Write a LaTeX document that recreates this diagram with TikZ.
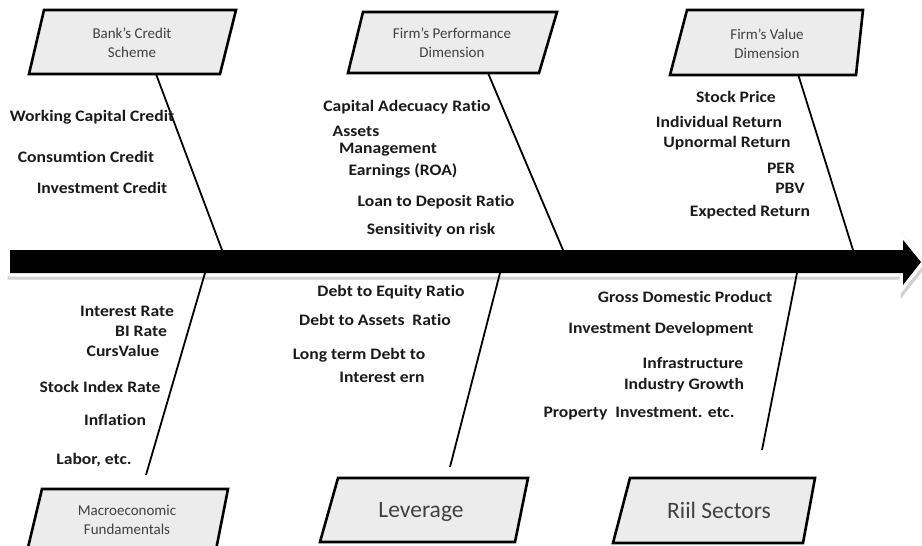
\documentclass[tikz,border=0pt]{standalone}
\usepackage{fontspec}
\setmainfont{Carlito}[Ligatures={NoCommon}]
\newfontfamily\labfont{Carlito}[FakeStretch=1.1, Ligatures={NoCommon}]
\begin{document}
\begin{tikzpicture}[x=1pt,y=-1pt,
  boxshape/.style={draw=black, line width=2.6pt, line join=miter, fill=boxgray},
  bone/.style={draw=black, line width=1.8pt},
  lab/.style={inner sep=0pt, font=\labfont\fontsize{16}{18}\selectfont\bfseries, text=labtext},
  boxtxt/.style={inner sep=0pt, align=center, font=\fontsize{15}{18.5}\selectfont, text=boxtext},
  bigtxt/.style={inner sep=0pt, font=\fontsize{23.5}{25}\selectfont, text=boxtext}]
\definecolor{boxgray}{HTML}{ECECEC}
\definecolor{boxtext}{HTML}{404040}
\definecolor{labtext}{HTML}{1A1A1A}
\useasboundingbox (0,0) rectangle (922,546);
\clip (0,0) rectangle (922,546);
% main arrow
\fill[black!18, shift={(1.5,2.5)}] (10,250) -- (903,250) -- (903,240) -- (921,262) -- (903,285) -- (903,273) -- (10,273) -- cycle;
\draw[black!18, line width=8pt, line join=miter, shift={(1.5,2.5)}] (10,250) -- (903,250) -- (903,240) -- (921,262) -- (903,285) -- (903,273) -- (10,273) -- cycle;
\draw[white, line width=7pt, line join=miter] (10,250) -- (903,250) -- (903,240) -- (921,262) -- (903,285) -- (903,273) -- (10,273) -- cycle;
\fill[black] (10,250) -- (903,250) -- (903,240) -- (921,262) -- (903,285) -- (903,273) -- (10,273) -- cycle;
% boxes
\draw[boxshape] (44,10) -- (236,10) -- (220,74) -- (29,74) -- cycle;
\draw[boxshape] (363,12) -- (557,12) -- (539,73) -- (348,73) -- cycle;
\draw[boxshape] (687,10) -- (863,10) -- (856,75) -- (670,75) -- cycle;
\draw[boxshape] (42,489) -- (228,489) -- (214,560) -- (25,560) -- cycle;
\draw[boxshape] (338,478) -- (528,478) -- (515,542) -- (320,542) -- cycle;
\draw[boxshape] (630,478) -- (815,478) -- (803,543) -- (613,543) -- cycle;
\node[boxtxt] (bank) at (132,43) {Bank’s Credit\\Scheme};
\node[boxtxt] (perf) at (452,43) {Firm’s Performance\\Dimension};
\node[boxtxt] (value) at (767,44) {Firm’s Value\\Dimension};
\node[boxtxt] (macro) at (127,520) {Macroeconomic\\Fundamentals};
\node[bigtxt] (lev) at (421,512) {Leverage};
\node[bigtxt] (riil) at (719,510) {Riil Sectors};
% attach points
\coordinate (bankB) at (156,74);
\coordinate (perfB) at (488,73);
\coordinate (valueB) at (798,74);
\coordinate (macroT) at (146,475);
\coordinate (levT) at (450,467);
\coordinate (riilT) at (762,450);
\coordinate (s1) at (222,250);
\coordinate (s2) at (563,250);
\coordinate (s3) at (853,250);
\coordinate (s4) at (205,273);
\coordinate (s5) at (500,273);
\coordinate (s6) at (797,273);
\draw[bone] (bankB) -- (s1);
\draw[bone] (perfB) -- (s2);
\draw[bone] (valueB) -- (s3);
\draw[bone] (macroT) -- (s4);
\draw[bone] (levT) -- (s5);
\draw[bone] (riilT) -- (s6);
% labels
\node[lab] (l1) at (92,117) {Working Capital Credit};
\node[lab] (l2) at (86,157) {Consumtion Credit};
\node[lab] (l3) at (102,188) {Investment Credit};
\node[lab] (l4) at (407,107) {Capital Adecuacy Ratio};
\node[lab] (l5) at (356,131) {Assets};
\node[lab] (l6) at (388,150) {Management};
\node[lab] (l7) at (403,171) {Earnings (ROA)};
\node[lab] (l8) at (436,202) {Loan to Deposit Ratio};
\node[lab] (l9) at (431,230) {Sensitivity on risk};
\node[lab] (l10) at (736,97) {Stock Price};
\node[lab] (l11) at (719,122) {Individual Return};
\node[lab] (l12) at (727,143) {Upnormal Return};
\node[lab] (l13) at (781,168) {PER};
\node[lab] (l14) at (790,188) {PBV};
\node[lab] (l15) at (750,212) {Expected Return};
\node[lab] (l16) at (127,311) {Interest Rate};
\node[lab] (l17) at (141,331) {BI Rate};
\node[lab] (l18) at (123,351) {CursValue};
\node[lab] (l19) at (100,387) {Stock Index Rate};
\node[lab] (l20) at (115,420) {Inflation};
\node[lab] (l21) at (94,460) {Labor, etc.};
\node[lab] (l22) at (391,292) {Debt to Equity Ratio};
\node[lab] (l23) at (375,320) {Debt to Assets\ \ Ratio};
\node[lab] (l24) at (359,355) {Long term Debt to};
\node[lab] (l25) at (382,377) {Interest ern};
\node[lab] (l26) at (685,297) {Gross Domestic Product};
\node[lab] (l27) at (661,329) {Investment Development};
\node[lab] (l28) at (693,363) {Infrastructure};
\node[lab] (l29) at (684,385) {Industry Growth};
\node[lab] (l30) at (639,414) {Property\ \ Investment. etc.};
\end{tikzpicture}
\end{document}
